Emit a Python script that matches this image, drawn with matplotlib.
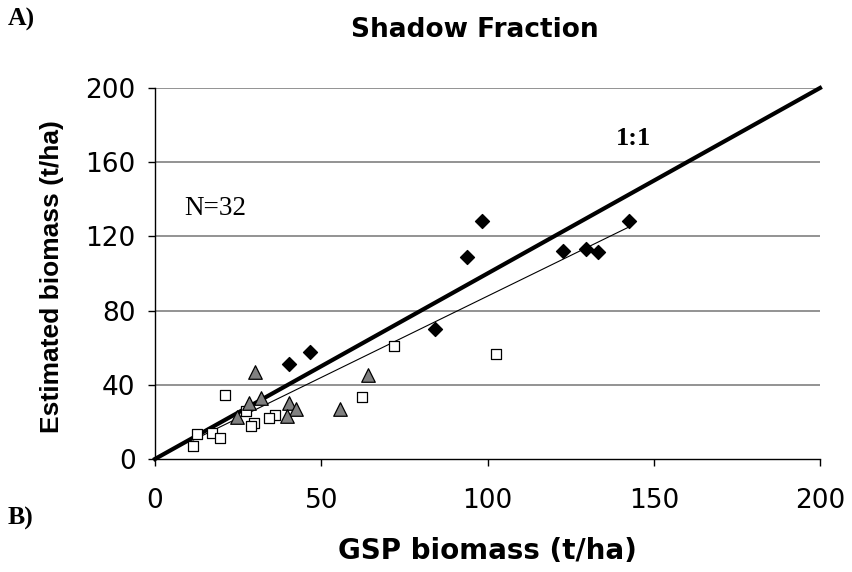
import matplotlib
matplotlib.use("Agg")
import matplotlib.pyplot as plt
import numpy as np

# Data
diam_x = [40.4, 46.7, 84.2, 93.9, 98.2, 122.7, 129.6, 133.3, 142.7]
diam_y = [51.0, 57.7, 70.2, 108.9, 128.3, 112.0, 113.2, 111.8, 128.3]
tri_x = [30.2, 64.1, 28.3, 31.9, 40.4, 42.3, 55.5, 24.8, 39.7]
tri_y = [46.7, 45.3, 30.4, 32.7, 30.0, 27.1, 27.1, 22.8, 23.0]
sq_x = [21.2, 62.2, 27.5, 36.1, 34.4, 29.9, 28.9, 12.5, 17.0, 19.4, 11.5, 102.5, 71.9]
sq_y = [34.7, 33.3, 26.0, 23.5, 22.1, 19.4, 17.8, 13.6, 13.8, 11.1, 7.0, 56.6, 60.9]
fit_x = [11.5, 142.7]
fit_y = [10.2, 125.2]
one_x = [0, 200]
one_y = [0, 200]
xticks = [0, 50, 100, 150, 200]
yticks = [0, 40, 80, 120, 160, 200]

fig = plt.figure(figsize=(8.52, 5.72), dpi=100)
ax = fig.add_axes([155 / 852, 0.1976, (820 - 155) / 852, 0.8462 - 0.1976])
ax.set_xlim(0, 200)
ax.set_ylim(0, 200)
for yv in yticks[1:]:
    ax.axhline(yv, color="#808080", lw=1.2, zorder=0)
for s in ["top", "right"]:
    ax.spines[s].set_visible(False)
for s in ["left", "bottom"]:
    ax.spines[s].set_color("black")
    ax.spines[s].set_linewidth(1.0)

ax.plot(one_x, one_y, color="black", lw=3, zorder=2, clip_on=False)
ax.plot(fit_x, fit_y, color="black", lw=0.8, zorder=2)
ax.scatter(sq_x, sq_y, marker="s", s=55, facecolor="white", edgecolor="black", linewidths=0.9, zorder=3)
ax.scatter(tri_x, tri_y, marker="^", s=95, facecolor="#808080", edgecolor="black", linewidths=0.9, zorder=3)
ax.scatter(diam_x, diam_y, marker="D", s=50, facecolor="black", edgecolor="black", zorder=4)

ax.set_xticks(xticks)
ax.set_yticks(yticks)
ax.tick_params(direction="out", length=5, width=1, labelsize=19)
for lab in ax.get_xticklabels() + ax.get_yticklabels():
    lab.set_family("DejaVu Sans")
ax.tick_params(axis="y", pad=9)
ax.tick_params(axis="x", pad=16)

ax.set_xlabel("GSP biomass (t/ha)", fontsize=20, fontweight="bold", family="DejaVu Sans", va="center")
ax.xaxis.set_label_coords((487 - 155) / 665, -(551 - 459) / 371)
ax.set_ylabel("Estimated biomass (t/ha)", fontsize=19, fontweight="bold", family="Liberation Sans", va="center")
ax.yaxis.set_label_coords(-(155 - 52) / 665, (459 - 277) / 371)

ax.text(138.5, 173, "1:1", fontsize=19, fontweight="bold", family="Liberation Serif", ha="left", va="center")
ax.text(8.9, 135, "N=32", fontsize=19.5, family="Liberation Serif", ha="left", va="center")

fig.text(475 / 852, 1 - 30 / 572, "Shadow Fraction", fontsize=19, fontweight="bold",
         family="DejaVu Sans", ha="center", va="center")
fig.text(8 / 852, 1 - 19 / 572, "A)", fontsize=18.5, fontweight="bold", family="Liberation Serif", ha="left", va="center")
fig.text(8 / 852, 1 - 518 / 572, "B)", fontsize=18.5, fontweight="bold", family="Liberation Serif", ha="left", va="center")

fig.savefig("out.png", dpi=100)
